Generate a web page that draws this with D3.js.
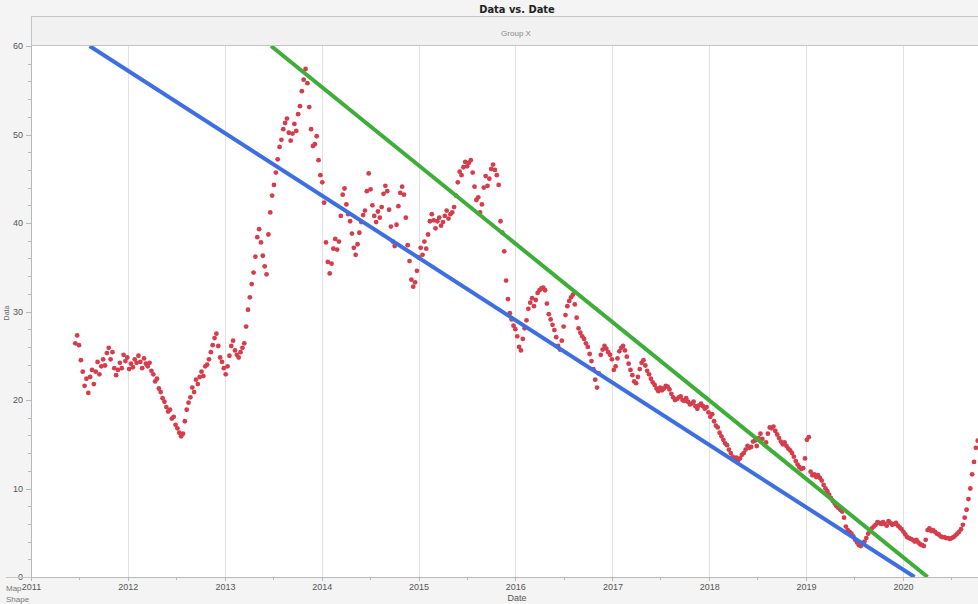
<!DOCTYPE html>
<head>
  <meta charset="utf-8">
  <script src="https://d3js.org/d3.v7.min.js"></script>
  <title>Data vs. Date</title>
  <style>
    body {
      margin: 0;
      background: #f4f4f4;
    }
    svg {
      display: block;
      font-family: 'Liberation Sans', 'DejaVu Sans', sans-serif;
    }
    .axis path,
    .axis line {
      fill: none;
      stroke: #b8b8b8;
      shape-rendering: crispEdges;
    }
    .axis text {
      fill: #555;
      font-size: 9px;
    }
    .grid line {
      stroke: #e2e2e2;
      shape-rendering: crispEdges;
    }
    .grid path {
      stroke-width: 0;
    }
  </style>
</head>

<body>
  <svg width="978" height="604"></svg>
  <script>

// weekly readings of the red series, starting 17 Jun 2011
var seriesStart = "2011-06-17";
var seriesValues = [
  26.4, 27.3, 26.2, 24.5, 23.2, 21.6, 22.4, 20.8, 22.6, 23.4, 21.8, 23.2, 24.3, 22.9,
  23.8, 24.6, 23.9, 25.3, 25.9, 24.6, 25.4, 23.6, 22.8, 23.4, 24.2, 23.6, 25.1, 24.4,
  24.8, 23.5, 24.1, 23.7, 24.6, 24.2, 25.0, 24.3, 23.6, 24.7, 24.1, 23.8, 24.2, 23.3,
  22.9, 22.1, 22.4, 21.3, 20.9, 20.2, 19.8, 19.2, 18.7, 18.9, 17.9, 18.1, 17.2, 16.8,
  16.3, 15.9, 16.2, 17.6, 18.9, 19.7, 20.3, 21.4, 20.9, 22.3, 21.8, 22.6, 23.2, 22.7,
  23.8, 24.0, 24.6, 25.4, 26.2, 27.0, 27.5, 26.1, 24.8, 24.3, 23.6, 22.9, 23.8, 25.0,
  26.1, 26.7, 25.6, 25.1, 24.8, 25.4, 25.9, 26.4, 28.3, 30.2, 31.6, 33.1, 34.4, 36.2,
  38.4, 39.3, 37.8, 36.3, 35.1, 34.2, 38.7, 41.2, 43.1, 44.3, 45.7, 47.2, 48.6, 49.4,
  50.6, 51.3, 51.8, 50.2, 49.3, 50.1, 51.2, 50.4, 52.3, 53.2, 54.9, 56.2, 57.4, 55.8,
  53.1, 50.6, 48.7, 48.9, 49.8, 47.1, 45.4, 44.6, 42.3, 37.8, 35.6, 34.3, 35.4, 37.1,
  38.2, 37.0, 37.9, 40.8, 43.2, 43.9, 42.1, 41.0, 40.2, 38.8, 37.2, 36.4, 37.6, 38.9,
  40.1, 40.9, 41.4, 43.6, 45.6, 43.8, 42.0, 40.8, 40.1, 41.3, 40.6, 41.8, 43.3, 44.2,
  43.6, 41.5, 39.6, 37.9, 37.4, 39.8, 41.9, 43.4, 44.1, 43.2, 40.6, 37.5, 35.7, 33.6,
  32.8, 33.3, 34.6, 36.1, 37.2, 36.4, 37.9, 37.1, 38.7, 40.2, 41.0, 40.3, 39.4, 40.2,
  40.6, 39.7, 40.1, 40.8, 41.4, 40.5, 41.0, 41.2, 41.8, 43.1, 44.6, 45.8, 45.4, 46.3,
  46.9, 46.4, 46.8, 47.1, 45.7, 44.1, 42.6, 42.9, 41.2, 42.1, 44.0, 45.3, 44.2, 45.0,
  46.1, 46.6, 46.0, 45.4, 44.3, 40.2, 38.9, 36.8, 33.5, 31.4, 29.8, 29.1, 28.4, 28.0,
  27.2, 26.0, 25.6, 26.9, 28.1, 29.0, 30.3, 31.0, 31.5, 30.6, 31.3, 32.1, 32.4, 32.6,
  32.7, 32.4, 30.9, 29.7, 29.1, 28.5, 27.9, 27.1, 26.1, 25.7, 26.7, 28.3, 29.6, 30.6,
  31.2, 31.6, 31.9, 30.8, 29.3, 28.1, 27.6, 27.2, 26.9, 26.4, 26.0, 25.2, 24.4, 23.5,
  22.3, 21.4, 23.0, 25.1, 25.7, 26.1, 25.8, 25.4, 25.1, 24.6, 23.4, 23.8, 24.7, 25.5,
  25.9, 26.1, 25.6, 24.9, 24.1, 23.4, 22.8, 22.1, 21.9, 22.6, 23.5, 24.2, 24.5, 23.9,
  23.3, 22.9, 22.4, 22.0, 21.7, 21.3, 21.0, 21.4, 21.1, 21.3, 21.6, 21.5, 21.2, 20.7,
  20.3, 20.0, 20.1, 20.3, 20.4, 20.0, 19.9, 20.2, 19.8, 19.5, 19.6, 19.8, 19.3, 19.0,
  19.4, 19.6, 19.3, 19.0, 19.2, 18.6, 18.1, 18.4, 17.6, 17.1, 16.9, 16.3, 15.9, 15.5,
  15.1, 14.9, 14.4, 14.0, 13.6, 13.4, 13.5, 13.2, 13.4, 13.8, 14.0, 14.4, 14.8, 14.6,
  14.7, 15.3, 15.4, 14.8, 15.7, 16.2, 15.6, 15.0, 15.2, 16.2, 16.9, 16.8, 17.0, 16.5,
  16.1, 15.7, 15.3, 15.0, 15.2, 14.8, 14.5, 14.3, 14.0, 13.6, 13.1, 12.7, 12.4, 12.2,
  12.3, 13.4, 15.5, 15.8, 11.9, 11.5, 11.6, 11.3, 11.5, 11.2, 10.9, 10.4, 10.0, 9.7,
  9.3, 8.9, 8.6, 8.3, 8.0, 7.8, 7.6, 7.4, 6.7, 5.7, 5.3, 5.1, 4.9, 4.6,
  4.2, 3.9, 3.6, 3.5, 3.8, 4.0, 4.4, 4.9, 5.2, 5.5, 5.7, 5.9, 6.2, 6.1,
  6.0, 6.2, 6.0, 5.8, 6.3, 6.1, 5.9, 6.0, 6.1, 5.8, 5.6, 5.4, 5.1, 4.8,
  4.5, 4.4, 4.3, 4.2, 4.0, 4.2, 3.9, 3.7, 3.6, 3.5, 4.2, 5.3, 5.5, 5.2,
  5.3, 5.1, 4.9, 4.8, 4.6, 4.5, 4.5, 4.4, 4.4, 4.3, 4.4, 4.5, 4.7, 4.9,
  5.1, 5.4, 5.9, 6.7, 7.6, 8.8, 10.0, 11.6, 13.0, 14.6, 15.4
];

// the two straight fit lines, as [date, value] endpoints
var blueLine = [["2011-08-10", 60], ["2020-02-14", 0]];
var greenLine = [["2013-06-24", 60], ["2020-04-03", 0]];

var yearTicks = [2011, 2012, 2013, 2014, 2015, 2016, 2017, 2018, 2019, 2020];
var yTicks = [0, 10, 20, 30, 40, 50, 60];

var parseDate = d3.timeParse("%Y-%m-%d");
var plot = {left: 31, right: 1000, top: 46, bottom: 577};

var svg = d3.select("svg");

var x = d3.scaleTime()
    .domain([new Date(2011, 0, 1), new Date(2021, 0, 1)])
    .range([plot.left, plot.right]);

var y = d3.scaleLinear()
    .domain([0, 60])
    .range([plot.bottom, plot.top]);

// title + group header
svg.append("text")
    .attr("x", 517)
    .attr("y", 13)
    .attr("text-anchor", "middle")
    .style("font-family", "'Liberation Sans Narrow', 'DejaVu Sans Condensed', sans-serif")
    .style("font-weight", "bold")
    .style("font-size", "11px")
    .attr("fill", "#222")
    .text("Data vs. Date");

svg.append("rect")
    .attr("x", plot.left + 0.5)
    .attr("y", 16.5)
    .attr("width", plot.right - plot.left)
    .attr("height", plot.top - 17)
    .attr("fill", "#f1f1f1")
    .attr("stroke", "#c4c4c4");

svg.append("text")
    .attr("x", 516)
    .attr("y", 36)
    .attr("text-anchor", "middle")
    .style("font-size", "8px")
    .attr("fill", "#888")
    .text("Group X");

svg.append("rect")
    .attr("x", plot.left)
    .attr("y", plot.top)
    .attr("width", plot.right - plot.left)
    .attr("height", plot.bottom - plot.top)
    .attr("fill", "#fff");

svg.append("defs").append("clipPath")
    .attr("id", "clip")
  .append("rect")
    .attr("x", plot.left)
    .attr("y", plot.top)
    .attr("width", plot.right - plot.left)
    .attr("height", plot.bottom - plot.top);

// vertical grid at each year
svg.append("g")
    .attr("class", "grid")
    .attr("transform", "translate(0," + plot.bottom + ")")
    .call(d3.axisBottom(x)
        .tickValues(yearTicks.map(function(d) { return new Date(d, 0, 1); }))
        .tickSize(-(plot.bottom - plot.top))
        .tickFormat(""));

// axes
svg.append("g")
    .attr("class", "axis")
    .attr("transform", "translate(0," + plot.bottom + ")")
    .call(d3.axisBottom(x)
        .tickValues(d3.range(2011, 2021, 0.5).map(function(d) { return new Date(Math.floor(d), d % 1 ? 6 : 0, 1); }))
        .tickSize(3)
        .tickFormat(""));

svg.append("g")
    .attr("class", "axis")
    .attr("transform", "translate(0," + plot.bottom + ")")
    .call(d3.axisBottom(x)
        .tickValues(yearTicks.map(function(d) { return new Date(d, 0, 1); }))
        .tickSize(4)
        .tickPadding(3)
        .tickFormat(d3.timeFormat("%Y")));

svg.append("g")
    .attr("class", "axis")
    .attr("transform", "translate(" + plot.left + ",0)")
    .call(d3.axisLeft(y)
        .tickValues(d3.range(0, 61, 2))
        .tickSize(3)
        .tickFormat(""));

svg.append("g")
    .attr("class", "axis")
    .attr("transform", "translate(" + plot.left + ",0)")
    .call(d3.axisLeft(y)
        .tickValues(yTicks)
        .tickSize(5)
        .tickPadding(3));

svg.append("line")
    .attr("x1", 6).attr("x2", plot.left)
    .attr("y1", plot.bottom + 0.5).attr("y2", plot.bottom + 0.5)
    .attr("stroke", "#c8c8c8");

// axis titles and corner labels
svg.append("text")
    .attr("x", 517)
    .attr("y", 601)
    .attr("text-anchor", "middle")
    .style("font-size", "9px")
    .attr("fill", "#555")
    .text("Date");

svg.append("text")
    .attr("transform", "translate(9,313) rotate(-90)")
    .attr("text-anchor", "middle")
    .style("font-size", "7px")
    .attr("fill", "#666")
    .text("Data");

svg.append("text")
    .attr("x", 6)
    .attr("y", 591)
    .style("font-size", "8px")
    .attr("fill", "#777")
    .text("Map");

svg.append("text")
    .attr("x", 6)
    .attr("y", 602)
    .style("font-size", "8px")
    .attr("fill", "#777")
    .text("Shape");

// red points
var start = parseDate(seriesStart);
var points = seriesValues.map(function(v, i) {
  return {date: d3.timeWeek.offset(start, i), value: v};
});

var g = svg.append("g").attr("clip-path", "url(#clip)");

g.selectAll(".dot")
    .data(points)
    .enter()
    .append("circle")
    .attr("class", "dot")
    .attr("cx", function(d) { return x(d.date); })
    .attr("cy", function(d) { return y(d.value); })
    .attr("r", 2.4)
    .attr("fill", "#d63d4c");

// fit lines
var line = d3.line()
    .x(function(d) { return x(parseDate(d[0])); })
    .y(function(d) { return y(d[1]); });

g.append("path")
    .datum(blueLine)
    .attr("d", line)
    .attr("fill", "none")
    .attr("stroke", "#3d6fe0")
    .attr("stroke-width", 4);

g.append("path")
    .datum(greenLine)
    .attr("d", line)
    .attr("fill", "none")
    .attr("stroke", "#3fae38")
    .attr("stroke-width", 4);

  </script>
</body>
